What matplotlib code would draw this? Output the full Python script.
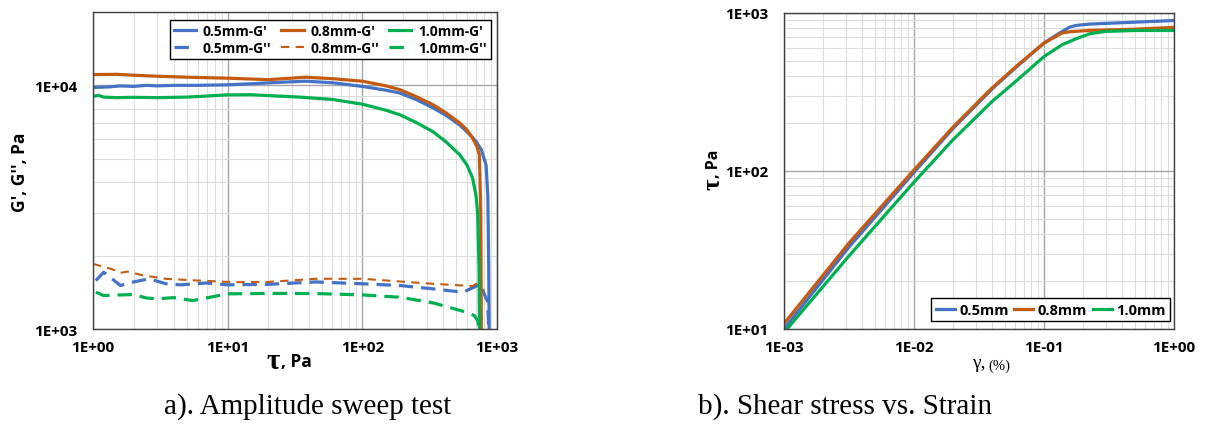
import numpy as np
import matplotlib
matplotlib.use('Agg')
import matplotlib.pyplot as plt
from matplotlib.ticker import LogLocator, FuncFormatter, NullFormatter

# ---- a) amplitude sweep: G' and G'' vs shear stress ----
x05_Gp = [1, 1.3, 1.6, 2, 2.5, 3, 4, 6, 10, 15, 25, 38, 60, 100, 150, 190, 250, 335, 420, 530, 625,
          700, 765, 830, 855, 868, 875]
y05_Gp = [9800, 9850, 9950, 9900, 10000, 9950, 10000, 10000, 10050, 10150, 10300, 10400, 10250, 9900,
          9550, 9300, 8750, 8080, 7520, 6870, 6300, 5880, 5450, 4700, 3500, 1800, 1000]
x08_Gp = [1, 1.5, 2, 3, 5, 10, 20, 38, 60, 100, 150, 190, 250, 335, 420, 530, 600, 660, 710, 740,
          758, 765]
y08_Gp = [11070, 11100, 11000, 10900, 10800, 10700, 10550, 10800, 10650, 10400, 9950, 9600, 9000,
          8330, 7700, 7000, 6550, 6060, 5600, 5180, 3000, 1000]
x10_Gp = [1, 1.1, 1.2, 1.5, 2, 3, 5, 10, 15, 34, 60, 100, 150, 190, 250, 335, 420, 530, 600, 660,
          700, 720, 735, 742]
y10_Gp = [9010, 9100, 8950, 8900, 8930, 8900, 8950, 9140, 9150, 8950, 8750, 8370, 7900, 7570, 7050,
          6450, 5850, 5180, 4700, 4150, 3500, 2930, 1800, 1000]

x05_Gpp = [1.05, 1.2, 1.4, 1.6, 2.0, 2.6, 3.5, 4.5, 7, 10, 20, 45, 100, 190, 335, 560, 760, 800, 850, 870]
y05_Gpp = [1580, 1710, 1600, 1508, 1560, 1606, 1533, 1518, 1545, 1518, 1525, 1560, 1533, 1508, 1461,
           1416, 1530, 1400, 1300, 1000]
x08_Gpp = [1, 1.2, 1.4, 1.6, 1.8, 2.35, 3.5, 6.2, 11, 20, 45, 100, 190, 335, 660, 720, 760, 765]
y08_Gpp = [1850, 1800, 1756, 1700, 1720, 1660, 1606, 1580, 1557, 1560, 1607, 1607, 1567, 1533, 1500,
           1550, 1500, 1000]
x10_Gpp = [1.05, 1.2, 1.6, 2, 2.5, 3, 4, 5.5, 10, 20, 45, 100, 190, 335, 600, 680, 720, 740]
y10_Gpp = [1416, 1372, 1380, 1385, 1340, 1330, 1345, 1308, 1394, 1400, 1398, 1380, 1350, 1280, 1170,
           1134, 1080, 1000]

# ---- b) shear stress vs strain ----
g05 = [1e-3, 3.16e-3, 1e-2, 0.02, 0.0398, 0.0631, 0.1, 0.126, 0.158, 0.178, 0.224, 0.5, 1.0]
t05 = [10.0, 33, 98, 186, 330, 465, 645, 730, 815, 835, 851, 875, 896]
g08 = [1e-3, 3.16e-3, 1e-2, 0.02, 0.0398, 0.0631, 0.1, 0.138, 0.16, 0.226, 0.5, 1.0]
t08 = [10.8, 35, 101.5, 190, 335, 470, 645, 748, 762, 776, 790, 811]
g10 = [1.056e-3, 3.16e-3, 1e-2, 0.02, 0.0398, 0.0631, 0.1, 0.138, 0.175, 0.226, 0.3, 0.5, 1.0]
t10 = [10, 29, 85, 158, 275, 380, 530, 630, 685, 740, 765, 775, 775]

BLUE, ORANGE, GREEN = '#4472C4', '#C55A11', '#00B050'
TF = 'Open Sans'

fig = plt.figure(figsize=(12.12, 4.35), dpi=100)
ax1 = fig.add_axes([93 / 1212, 1 - 330 / 435, 404 / 1212, 317 / 435])
ax2 = fig.add_axes([784 / 1212, 1 - 330 / 435, 390 / 1212, 316 / 435])

def style(ax, pad_y):
    ax.set_xscale('log'); ax.set_yscale('log')
    ax.xaxis.set_minor_locator(LogLocator(base=10, subs=np.arange(2, 10)))
    ax.yaxis.set_minor_locator(LogLocator(base=10, subs=np.arange(2, 10)))
    fmt = FuncFormatter(lambda v, p: '{:.0E}'.format(v))
    ax.xaxis.set_major_formatter(fmt); ax.yaxis.set_major_formatter(fmt)
    ax.xaxis.set_minor_formatter(NullFormatter()); ax.yaxis.set_minor_formatter(NullFormatter())
    ax.grid(which='major', color='#a6a6a6', lw=1.0)
    ax.grid(which='minor', color='#dcdcdc', lw=0.8)
    ax.set_axisbelow(True)
    ax.tick_params(which='both', length=0)
    ax.tick_params(axis='x', pad=8)
    ax.tick_params(axis='y', pad=pad_y)
    for lab in ax.get_xticklabels() + ax.get_yticklabels():
        lab.set_fontfamily(TF); lab.set_fontweight('bold'); lab.set_fontsize(11)
    for sp in ax.spines.values():
        sp.set_color('#404040'); sp.set_linewidth(1.0)

lw = 2.3
ax1.plot(x05_Gp, y05_Gp, color=BLUE, lw=lw, label="0.5mm-G'")
ax1.plot(x05_Gpp, y05_Gpp, color=BLUE, lw=lw, dashes=(4.5, 2.5), label="0.5mm-G''")
ax1.plot(x08_Gp, y08_Gp, color=ORANGE, lw=lw, label="0.8mm-G'")
ax1.plot(x08_Gpp, y08_Gpp, color=ORANGE, lw=1.5, dashes=(4, 3), label="0.8mm-G''")
ax1.plot(x10_Gp, y10_Gp, color=GREEN, lw=lw, label="1.0mm-G'")
ax1.plot(x10_Gpp, y10_Gpp, color=GREEN, lw=lw, dashes=(4.5, 2.5), label="1.0mm-G''")
ax1.set_xlim(1, 1000); ax1.set_ylim(1000, 20000)
ax1.set_xticks([1, 10, 100, 1000]); ax1.set_yticks([1000, 10000])
style(ax1, 11)
leg1 = ax1.legend(ncol=3, loc='upper right', bbox_to_anchor=(0.985, 0.975), borderaxespad=0,
                  prop={'family': TF, 'weight': 'bold', 'size': 10}, fancybox=False, framealpha=1,
                  edgecolor='black', handlelength=1.6, columnspacing=0.7, labelspacing=0.2,
                  handletextpad=0.5, borderpad=0.3)
leg1.get_frame().set_linewidth(1.0)

ax2.plot(g05, t05, color=BLUE, lw=lw, label='0.5mm')
ax2.plot(g08, t08, color=ORANGE, lw=lw, label='0.8mm')
ax2.plot(g10, t10, color=GREEN, lw=lw, label='1.0mm')
ax2.set_xlim(1e-3, 1); ax2.set_ylim(10, 1000)
ax2.set_xticks([1e-3, 1e-2, 1e-1, 1]); ax2.set_yticks([10, 100, 1000])
style(ax2, 11)
leg2 = ax2.legend(ncol=3, loc='lower right', bbox_to_anchor=(0.99, 0.025), borderaxespad=0,
                  prop={'family': TF, 'weight': 'bold', 'size': 10.5}, fancybox=False, framealpha=1,
                  edgecolor='black', handlelength=1.3, columnspacing=0.4, handletextpad=0.3,
                  borderpad=0.3)
leg2.get_frame().set_linewidth(1.0)

# axis labels
fig.text(20 / 1212, 1 - 172 / 435, "G', G'', Pa", rotation=90, ha='center', va='center',
         family=TF, weight='bold', fontsize=12.5)
fig.text(280 / 1212, 1 - 362 / 435, 'τ', ha='right', va='center', family='Liberation Serif',
         weight='bold', fontsize=21)
fig.text(281 / 1212, 1 - 362 / 435, ', Pa', ha='left', va='center', family=TF, weight='bold',
         fontsize=12.5)
fig.text(713 / 1212, 1 - 178 / 435, 'τ', rotation=90, ha='center', va='top',
         family='Liberation Serif', weight='bold', fontsize=18)
fig.text(714 / 1212, 1 - 178 / 435, ', Pa', rotation=90, ha='center', va='bottom', family=TF,
         weight='bold', fontsize=11.5)
fig.text(986 / 1212, 1 - 364 / 435, 'γ,', ha='right', va='center', family='Liberation Serif',
         fontsize=14)
fig.text(988 / 1212, 1 - 366 / 435, '(%)', ha='left', va='center', family='Liberation Serif',
         fontsize=10.5)

# captions
fig.text(308 / 1212, 1 - 407 / 435, 'a). Amplitude sweep test', ha='center', va='center',
         family='Liberation Serif', fontsize=21)
fig.text(845 / 1212, 1 - 407 / 435, 'b). Shear stress vs. Strain', ha='center', va='center',
         family='Liberation Serif', fontsize=21)

fig.savefig('out.png', dpi=100)
